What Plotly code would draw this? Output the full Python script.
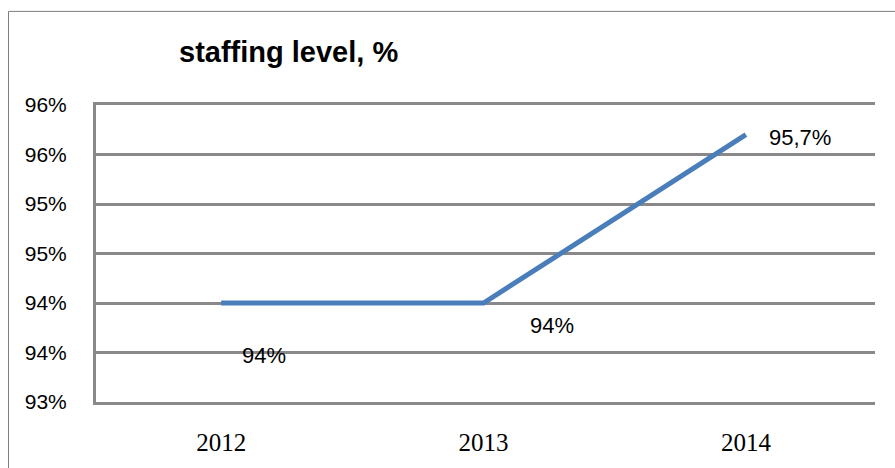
import plotly.graph_objects as go

# data
years = ["2012", "2013", "2014"]
staffing = [94.0, 94.0, 95.7]
point_labels = ["94%", "94%", "95,7%"]
y_ticks = [93.0, 93.5, 94.0, 94.5, 95.0, 95.5, 96.0]
y_tick_labels = ["93%", "94%", "94%", "95%", "95%", "96%", "96%"]

# label offsets (px) relative to each point
label_shift = [(43, -52), (68, -22), (54, -3)]

W, H = 895, 468
ML, MR, MT, MB = 96, 20, 105, 60
PW, PH = W - ML - MR, H - MT - MB

GRID = "#898989"
BLUE = "#4a7ebb"

fig = go.Figure()

fig.add_trace(go.Scatter(
    x=[0, 1, 2],
    y=staffing,
    mode="lines",
    line=dict(color=BLUE, width=5),
    hoverinfo="skip",
    showlegend=False,
))

for i, (val, lab) in enumerate(zip(staffing, point_labels)):
    dx, dy = label_shift[i]
    fig.add_annotation(
        x=i, y=val, text=lab, showarrow=False,
        xshift=dx, yshift=dy, xanchor="center", yanchor="middle",
        font=dict(family="Liberation Sans", size=22, color="black"),
    )

# title
fig.add_annotation(
    x=(288.5 - ML) / PW, y=1 + (MT - 51) / PH, xref="paper", yref="paper",
    xanchor="center", yanchor="middle",
    text="<b>staffing level, %</b>", showarrow=False,
    font=dict(family="Liberation Sans", size=29, color="black"),
)

# outer chart border (only left and top fall inside the frame)
bx = (8.5 - ML) / PW
by = 1 + (MT - 9.5) / PH
fig.add_shape(type="line", xref="paper", yref="paper",
              x0=bx, x1=bx, y0=by, y1=-(MB + 10) / PH,
              line=dict(color="#7f7f7f", width=1))
fig.add_shape(type="line", xref="paper", yref="paper",
              x0=bx, x1=1 + (MR + 10) / PW, y0=by, y1=by,
              line=dict(color="#7f7f7f", width=1))

fig.update_layout(
    width=W, height=H,
    margin=dict(l=ML, r=MR, t=MT, b=MB),
    paper_bgcolor="white",
    plot_bgcolor="white",
    xaxis=dict(
        range=[-0.477, 2.492],
        tickvals=[0, 1, 2],
        ticktext=years,
        showgrid=False,
        showline=True, mirror=True, linecolor=GRID, linewidth=3,
        ticks="", ticklabelstandoff=16,
        tickfont=dict(family="Liberation Serif", size=25, color="black"),
        zeroline=False,
        fixedrange=True,
    ),
    yaxis=dict(
        range=[93, 96],
        tickvals=y_ticks,
        ticktext=y_tick_labels,
        showgrid=True, gridcolor=GRID, gridwidth=3,
        showline=True, linecolor=GRID, linewidth=3,
        ticks="", ticklabelstandoff=22,
        tickfont=dict(family="Liberation Sans", size=21, color="black"),
        zeroline=False,
        fixedrange=True,
    ),
)

# drop the page's default body margin so the figure fills the window exactly
fig.write_html(
    "out.html",
    config={"displayModeBar": False},
    post_script="document.body.style.margin='0';document.body.style.overflow='hidden';",
)
